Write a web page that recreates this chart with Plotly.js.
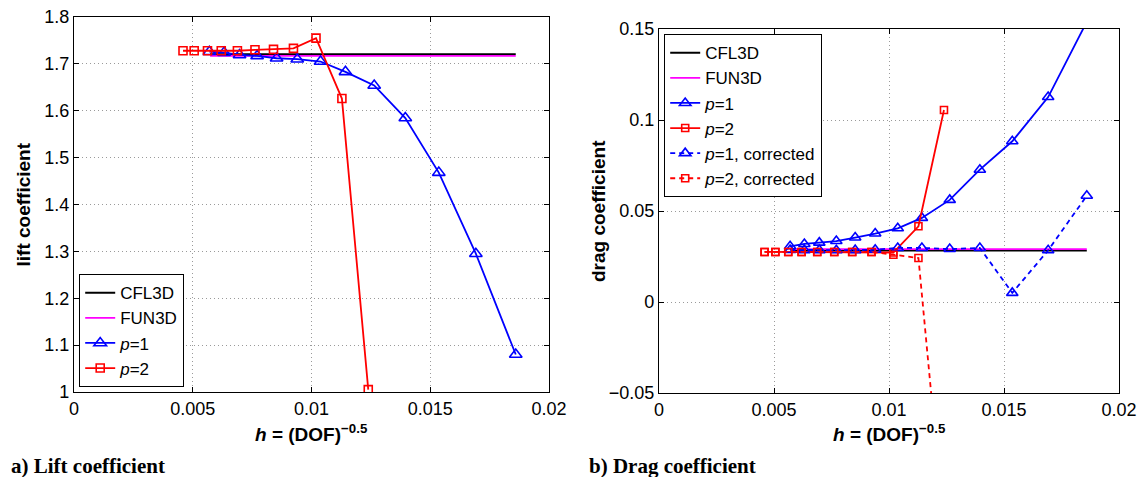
<!DOCTYPE html>
<html>
<head>
<meta charset="utf-8">
<script src="https://cdn.plot.ly/plotly-3.0.1.min.js"></script>
<style>html,body{margin:0;padding:0;background:#fff;}#chart{width:1138px;height:477px;}</style>
</head>
<body>
<div id="chart"></div>
<script>
// ---- data ----
const hP1 = [0.00570, 0.00632, 0.00697, 0.00771, 0.00853, 0.00940, 0.01038, 0.01143, 0.01264, 0.01395, 0.01536, 0.01692, 0.01860];
const hP2 = [0.00459, 0.00506, 0.00562, 0.00620, 0.00688, 0.00762, 0.00840, 0.00924, 0.01019, 0.01128, 0.01239];
const hRef = [0.00573, 0.01860];

const liftCFL3D = [1.721, 1.721];
const liftFUN3D = [1.717, 1.717];
const liftP1 = [1.726, 1.724, 1.719, 1.717, 1.712, 1.710, 1.705, 1.683, 1.654, 1.5845, 1.468, 1.295, 1.080];
const liftP2 = [1.728, 1.728, 1.728, 1.728, 1.728, 1.730, 1.731, 1.733, 1.755, 1.626, 1.005];

const dragCFL3D = [0.0282, 0.0282];
const dragFUN3D = [0.0291, 0.0291];
const dragP1 = [0.0306, 0.0319, 0.0326, 0.0335, 0.0354, 0.0376, 0.0405, 0.0462, 0.0561, 0.0727, 0.0883, 0.1126, 0.154];
const dragP2 = [0.0275, 0.0275, 0.0275, 0.0275, 0.0275, 0.0275, 0.0275, 0.0275, 0.0272, 0.0416, 0.1055];
const dragP1corr = [0.0286, 0.0285, 0.0285, 0.0284, 0.0285, 0.0287, 0.0297, 0.0297, 0.0291, 0.0297, 0.0050, 0.0284, 0.0584];
const dragP2corr = [0.0275, 0.0275, 0.0275, 0.0275, 0.0275, 0.0275, 0.0275, 0.0275, 0.0260, 0.0242, -0.125];

const xTicks = [0, 0.005, 0.01, 0.015, 0.02];
const xTickText = ['0', '0.005', '0.01', '0.015', '0.02'];
const liftTicks = [1, 1.1, 1.2, 1.3, 1.4, 1.5, 1.6, 1.7, 1.8];
const dragTicks = [-0.05, 0, 0.05, 0.1, 0.15];
const dragTickText = ['\u22120.05', '0', '0.05', '0.1', '0.15'];

// ---- styling ----
const W = 1138, H = 477;
const FONT = 'Liberation Sans, Arial, sans-serif';
const BLUE = '#0000ff', RED = '#ff0000', MAG = '#ff00ff';
const px = x => x / W, py = y => 1 - y / H;

function lineTrace(x, y, name, color, xa, ya, leg) {
  return {x, y, name, type: 'scatter', mode: 'lines', xaxis: xa, yaxis: ya, legend: leg,
    line: {color, width: 1.8}};
}
function markTrace(x, y, name, color, sym, size, dash, xa, ya, leg) {
  return {x, y, name, type: 'scatter', mode: 'lines+markers', xaxis: xa, yaxis: ya, legend: leg,
    line: {color, width: 1.8, dash: dash},
    marker: {symbol: sym, size: size, color: color, line: {color: color, width: 1.6}}};
}

const traces = [
  lineTrace(hRef, liftCFL3D, 'CFL3D', '#000000', 'x', 'y', 'legend'),
  lineTrace(hRef, liftFUN3D, 'FUN3D', MAG, 'x', 'y', 'legend'),
  markTrace(hP1, liftP1, '<i>p</i>=1', BLUE, 'triangle-up-open', 11, 'solid', 'x', 'y', 'legend'),
  markTrace(hP2, liftP2, '<i>p</i>=2', RED, 'square-open', 8, 'solid', 'x', 'y', 'legend'),

  lineTrace(hRef, dragCFL3D, 'CFL3D', '#000000', 'x2', 'y2', 'legend2'),
  lineTrace(hRef, dragFUN3D, 'FUN3D', MAG, 'x2', 'y2', 'legend2'),
  markTrace(hP1, dragP1, '<i>p</i>=1', BLUE, 'triangle-up-open', 10, 'solid', 'x2', 'y2', 'legend2'),
  markTrace(hP2, dragP2, '<i>p</i>=2', RED, 'square-open', 7, 'solid', 'x2', 'y2', 'legend2'),
  markTrace(hP1, dragP1corr, '<i>p</i>=1, corrected', BLUE, 'triangle-up-open', 10, '5px,4px', 'x2', 'y2', 'legend2'),
  markTrace(hP2, dragP2corr, '<i>p</i>=2, corrected', RED, 'square-open', 7, '5px,4px', 'x2', 'y2', 'legend2')
];

function axisBase() {
  return {showline: true, mirror: 'ticks', linecolor: '#000', linewidth: 1.2,
    ticks: 'inside', ticklen: 5, tickcolor: '#000', tickwidth: 1,
    showgrid: true, gridcolor: '#9a9a9a', griddash: '1px,3px', gridwidth: 1,
    zeroline: false, tickfont: {family: FONT, size: 18, color: '#000'}, fixedrange: true};
}

const legendBase = {bgcolor: '#fff', bordercolor: '#000', borderwidth: 1.2,
  font: {family: FONT, size: 17, color: '#000'}, tracegroupgap: 0, traceorder: 'normal'};

const layout = {
  width: W, height: H,
  margin: {l: 0, r: 0, t: 0, b: 0},
  paper_bgcolor: '#fff', plot_bgcolor: '#fff',
  font: {family: FONT, color: '#000'},
  xaxis: Object.assign(axisBase(), {domain: [px(74), px(549)], range: [0, 0.02], tickvals: xTicks, ticktext: xTickText, anchor: 'y'}),
  yaxis: Object.assign(axisBase(), {domain: [py(392), py(17)], range: [1, 1.8], tickvals: liftTicks, anchor: 'x'}),
  xaxis2: Object.assign(axisBase(), {domain: [px(659), px(1119)], range: [0, 0.02], tickvals: xTicks, ticktext: xTickText, anchor: 'y2'}),
  yaxis2: Object.assign(axisBase(), {domain: [py(393), py(29)], range: [-0.05, 0.15], tickvals: dragTicks, ticktext: dragTickText, anchor: 'x2'}),
  legend: Object.assign({}, legendBase, {x: px(79), y: py(387), xanchor: 'left', yanchor: 'bottom'}),
  legend2: Object.assign({}, legendBase, {x: px(664), y: py(34), xanchor: 'left', yanchor: 'top'}),
  annotations: [
    {text: '<b>lift coefficient</b>', xref: 'paper', yref: 'paper', x: px(23), y: py(204.5), textangle: -90,
      showarrow: false, xanchor: 'center', yanchor: 'middle', font: {family: FONT, size: 19}},
    {text: '<b>drag coefficient</b>', xref: 'paper', yref: 'paper', x: px(598), y: py(211), textangle: -90,
      showarrow: false, xanchor: 'center', yanchor: 'middle', font: {family: FONT, size: 19}},
    {text: '<b><i>h</i> = (DOF)<sup>\u22120.5</sup></b>', xref: 'paper', yref: 'paper', x: px(311.5), y: py(433),
      showarrow: false, xanchor: 'center', yanchor: 'middle', font: {family: FONT, size: 19}},
    {text: '<b><i>h</i> = (DOF)<sup>\u22120.5</sup></b>', xref: 'paper', yref: 'paper', x: px(889), y: py(433),
      showarrow: false, xanchor: 'center', yanchor: 'middle', font: {family: FONT, size: 19}},
    {text: '<b>a) Lift coefficient</b>', xref: 'paper', yref: 'paper', x: px(9), y: py(466),
      showarrow: false, xanchor: 'left', yanchor: 'middle', font: {family: 'Liberation Serif, Times New Roman, serif', size: 21}},
    {text: '<b>b) Drag coefficient</b>', xref: 'paper', yref: 'paper', x: px(587), y: py(466),
      showarrow: false, xanchor: 'left', yanchor: 'middle', font: {family: 'Liberation Serif, Times New Roman, serif', size: 21}}
  ]
};

Plotly.newPlot('chart', traces, layout, {displayModeBar: false, staticPlot: true});
</script>
</body>
</html>
